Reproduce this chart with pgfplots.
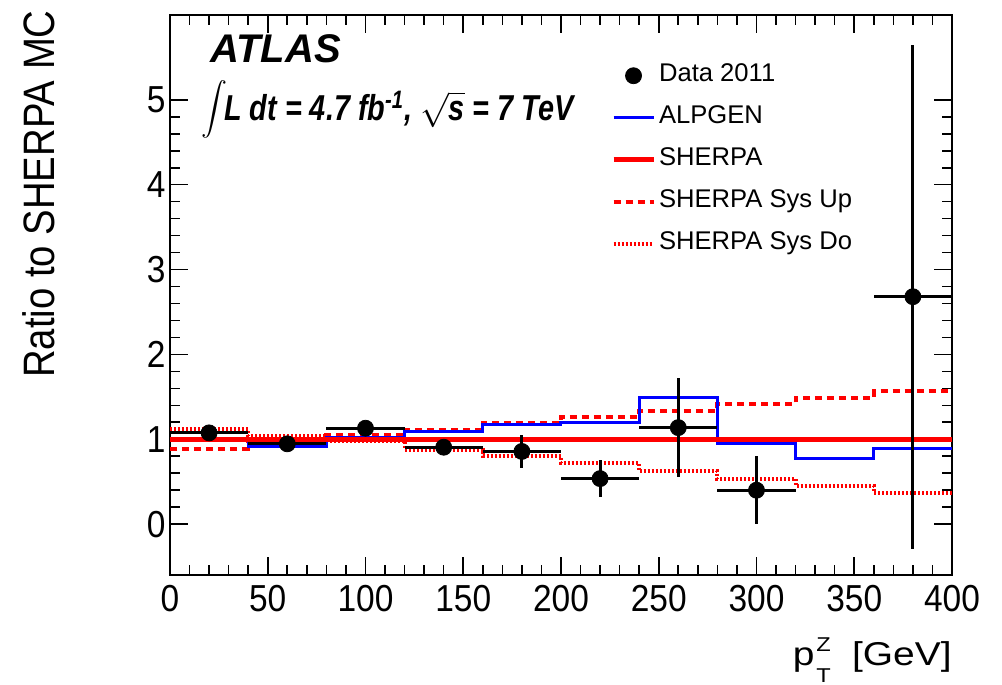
\documentclass[border=0pt]{standalone}
\usepackage{fontspec}
\setmainfont{Liberation Sans}
\newfontfamily\tickfont[FakeStretch=0.89]{Liberation Sans}
\newfontfamily\ylabfont[FakeStretch=0.87]{Liberation Sans}
\newfontfamily\lumifont[FakeStretch=0.8]{Liberation Sans}
\usepackage{pgfplots}
\pgfplotsset{compat=1.18}

% bin lower edges, last edge repeated for the const plots
\pgfplotstableread{
x    alpgen  sherpa  up     down
0    1.005   1.0     0.887  1.120
40   0.918   1.0     0.985  1.040
80   1.023   1.0     1.050  0.980
120  1.090   1.0     1.110  0.876
160  1.172   1.0     1.190  0.797
200  1.200   1.0     1.266  0.715
240  1.490   1.0     1.336  0.620
280  0.950   1.0     1.415  0.536
320  0.770   1.0     1.490  0.445
360  0.887   1.0     1.563  0.367
400  0.887   1.0     1.563  0.367
}\mc

\pgfplotstableread{
x    y      ex   ey
20   1.075  20   0.06
60   0.946  20   0.03
100  1.130  20   0.06
140  0.906  20   0.08
180  0.856  20   0.19
220  0.536  20   0.22
260  1.137  20   0.58
300  0.399  20   0.40
380  2.680  20   2.97
}\data

\begin{document}
\begin{tikzpicture}
\useasboundingbox (-85pt,-55pt) rectangle (416pt,287.5pt);
\begin{axis}[
  scale only axis, width=391pt, height=280pt,
  xmin=0, xmax=400, ymin=-0.6, ymax=6,
  clip=false,
  xtick={0,50,...,400}, ytick={0,1,...,5},
  minor x tick num=4, minor y tick num=4,
  major tick length=9pt, minor tick length=5pt,
  tick align=inside, tick pos=both,
  axis line style={line width=1pt}, tick style={line width=0.8pt, black},
  /pgf/number format/assume math mode=true,
  ticklabel style={font=\tickfont\fontsize{18.8}{22}\selectfont},
  xticklabel style={inner sep=0pt, anchor=north, yshift=-5pt},
  yticklabel style={inner sep=0pt, anchor=east, xshift=-2pt},
  ylabel={Ratio to SHERPA MC},
  ylabel style={font=\ylabfont\fontsize{22}{24}\selectfont, at={(axis description cs:0,1)}, anchor=base east, xshift=2.5pt, yshift=57.5pt, inner sep=0pt},
  legend cell align=left,
  legend style={draw=none, fill=none, at={(rel axis cs:0.5640,0.913)}, anchor=north west,
    inner sep=0pt, outer sep=0pt, row sep=9pt, column sep=1.5pt,
    font=\fontsize{12.8}{14}\selectfont,
    nodes={inner sep=0pt, text height=9pt, text depth=3pt}},
]
\addlegendimage{legend image code/.code={\fill[black] (10pt,0pt) circle (4pt);}}
\addlegendentry{Data 2011}
\addlegendimage{legend image code/.code={\draw[blue, line width=1.5pt] (0pt,0pt) -- (20pt,0pt);}}
\addlegendentry{ALPGEN}
\addlegendimage{legend image code/.code={\draw[red, line width=2.5pt] (0pt,0pt) -- (20pt,0pt);}}
\addlegendentry{SHERPA}
\addlegendimage{legend image code/.code={\draw[red, line width=2pt, dash pattern=on 3.5pt off 2.5pt] (0pt,0pt) -- (20pt,0pt);}}
\addlegendentry{SHERPA Sys Up}
\addlegendimage{legend image code/.code={\draw[red, line width=2pt, dash pattern=on 1pt off 1pt] (0pt,0pt) -- (20pt,0pt);}}
\addlegendentry{SHERPA Sys Do}

\addplot[forget plot, const plot, red, line width=2pt, dash pattern=on 1pt off 1pt] table[x=x, y=down] {\mc};
\addplot[forget plot, const plot, red, line width=2pt, dash pattern=on 3.5pt off 2.5pt] table[x=x, y=up] {\mc};
\addplot[forget plot, const plot, blue, line width=1.5pt] table[x=x, y=alpgen] {\mc};
\addplot[forget plot, const plot, red, line width=2.5pt] table[x=x, y=sherpa] {\mc};
\addplot[forget plot, only marks, mark=*, mark size=4pt, black,
  error bars/.cd, x dir=both, x explicit, y dir=both, y explicit,
  error mark=none, error bar style={line width=1.5pt, black}]
  table[x=x, y=y, x error=ex, y error=ey] {\data};

\node[anchor=base west, inner sep=0pt, font=\fontsize{20}{24}\selectfont\bfseries\itshape]
  at ([xshift=20pt,yshift=-24pt]rel axis cs:0,1) {ATLAS};
\node[anchor=center, inner sep=0pt, font=\fontsize{10}{12}\selectfont]
  at ([xshift=22.5pt,yshift=-47pt]rel axis cs:0,1) {\scalebox{1.3}{$\displaystyle\int$}};
\node[anchor=base west, inner sep=0pt, font=\lumifont\fontsize{18}{20}\selectfont\bfseries\itshape]
  at ([xshift=27pt,yshift=-53pt]rel axis cs:0,1)
  {L dt = 4.7 fb\textsuperscript{-1}, $\sqrt{\mbox{\lumifont\fontsize{18}{20}\selectfont\bfseries\itshape s}}$ = 7 TeV};
\node[anchor=base east, inner sep=0pt, font=\fontsize{16.5}{18}\selectfont]
  at ([yshift=-45pt]rel axis cs:1,0)
  {\scalebox{1.18}[1]{p\hspace{0.05em}\rlap{\raisebox{6.5pt}{\fontsize{10}{10}\selectfont Z}}\raisebox{-9pt}{\fontsize{10}{10}\selectfont T}\hspace{9pt}[GeV]}};
\end{axis}
\end{tikzpicture}
\end{document}
